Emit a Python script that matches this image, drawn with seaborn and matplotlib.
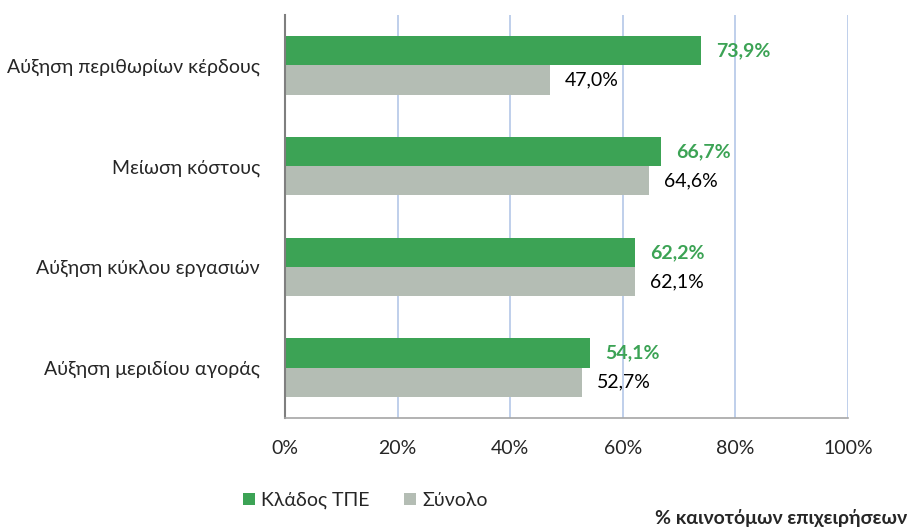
import pandas as pd
import matplotlib
matplotlib.use("Agg")
import matplotlib.pyplot as plt
import seaborn as sns

categories = ["Αύξηση περιθωρίων κέρδους", "Μείωση κόστους",
              "Αύξηση κύκλου εργασιών", "Αύξηση μεριδίου αγοράς"]
series_names = ["Κλάδος ΤΠΕ", "Σύνολο"]
tpe_values = [73.9, 66.7, 62.2, 54.1]
total_values = [47.0, 64.6, 62.1, 52.7]
x_ticks = [0, 20, 40, 60, 80, 100]

green = "#3ca355"
grey = "#b4bdb4"

df = pd.DataFrame({
    "category": categories * 2,
    "series": [series_names[0]] * 4 + [series_names[1]] * 4,
    "value": tpe_values + total_values,
})

sns.set_style("white")
plt.rcParams["font.family"] = ["Lato", "DejaVu Sans"]
fs = 14

fig = plt.figure(figsize=(9.1, 5.31), dpi=100)
ax = fig.add_axes([0.3132, 0.2128, 0.6187, 0.759])

sns.barplot(data=df, y="category", x="value", hue="series", orient="h",
            palette=[green, grey], width=0.58, ax=ax, legend=True,
            saturation=1, linewidth=0)

ax.set_xlim(0, 100)
ax.set_ylim(3.5, -0.5)
ax.set_xticks(x_ticks)
ax.set_xticklabels([f"{t}%" for t in x_ticks], fontsize=fs)
ax.tick_params(axis="y", labelsize=fs, length=0, pad=18)
ax.tick_params(axis="x", length=0, pad=16)
ax.set_xlabel("")
ax.set_ylabel("")

# gridlines
for t in x_ticks[1:]:
    ax.axvline(t, color="#b4c7e7", lw=1.2, zorder=0)
ax.set_axisbelow(True)

for side in ["top", "right"]:
    ax.spines[side].set_visible(False)
ax.spines["left"].set_color("#7f7f7f")
ax.spines["left"].set_linewidth(1.5)
ax.spines["bottom"].set_color("#a6a6a6")
ax.spines["bottom"].set_linewidth(1.2)

# value labels
ax.bar_label(ax.containers[0], labels=[f"{v:.1f}%".replace(".", ",") for v in tpe_values],
             padding=11, fontsize=fs, fontweight="bold", color=green)
ax.bar_label(ax.containers[1], labels=[f"{v:.1f}%".replace(".", ",") for v in total_values],
             padding=11, fontsize=fs, color="black")

leg = ax.legend(loc="center left", bbox_to_anchor=(-0.105, -0.205), ncol=2,
                frameon=False, fontsize=fs, handlelength=0.6, handleheight=0.6,
                columnspacing=1.8, handletextpad=0.3)

fig.text(0.997, 0.008, "% καινοτόμων επιχειρήσεων", ha="right", va="bottom",
         fontsize=fs, fontweight="bold")

fig.savefig("out.png", dpi=100)
